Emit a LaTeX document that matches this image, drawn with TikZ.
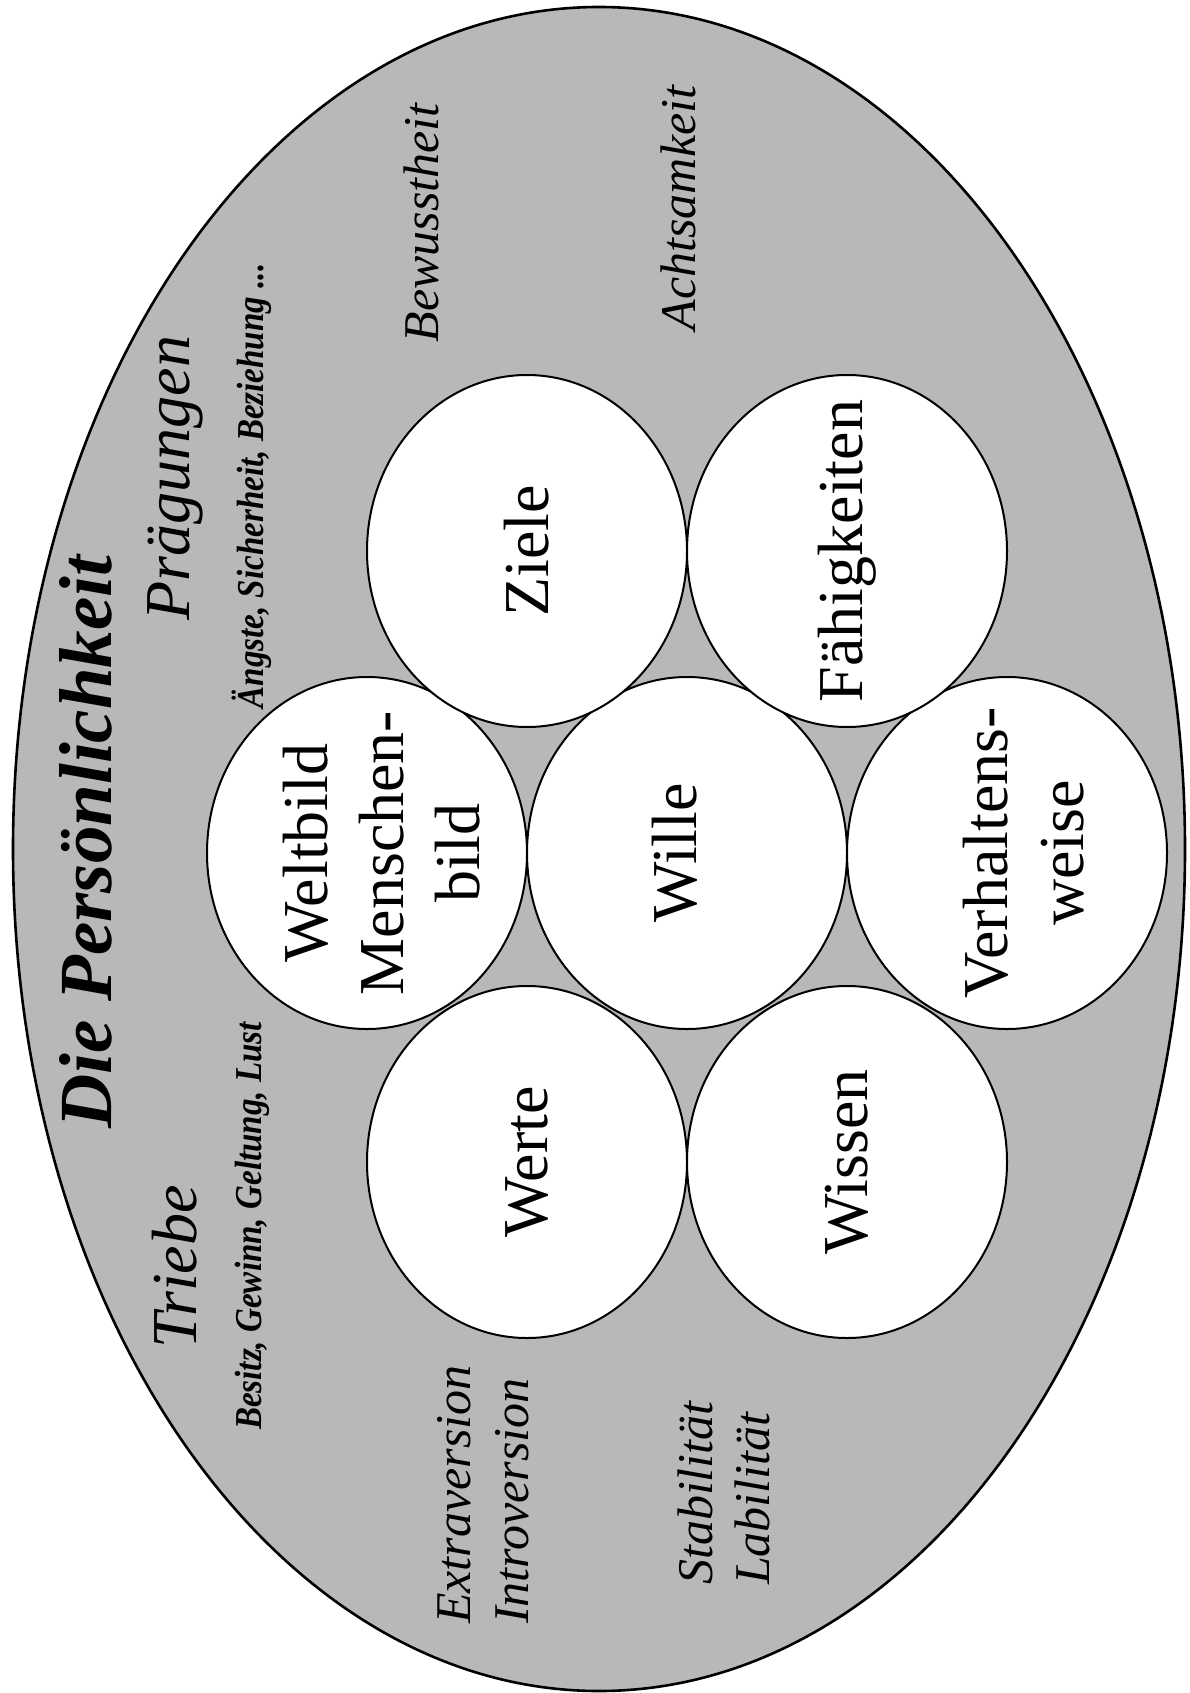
\documentclass[tikz,border=0pt]{standalone}
\usepackage{fontspec}
\setmainfont{LiberationSerif}[Extension=.ttf, UprightFont=*-Regular, BoldFont=*-Bold, ItalicFont=*-Italic, BoldItalicFont=*-BoldItalic]
\newfontfamily\condfont{LiberationSerif}[Extension=.ttf, UprightFont=*-Regular, BoldFont=*-Bold, ItalicFont=*-Italic, BoldItalicFont=*-BoldItalic, FakeStretch=0.87]
\usetikzlibrary{shapes.geometric}
\definecolor{bggray}{RGB}{184,184,184}
\begin{document}
\begin{tikzpicture}[x=1pt,y=-1pt,
  outerbox/.style={ellipse, draw, fill=bggray, line width=2.6pt, minimum width=1172pt, minimum height=1684pt, inner sep=0pt},
  blob/.style={ellipse, draw, fill=white, line width=2pt, minimum width=352pt, minimum height=320pt, inner sep=0pt, rotate=90},
  lbl/.style={rotate=90, font=\fontsize{64}{76}\selectfont, align=center, inner sep=0pt},
  bigit/.style={rotate=90, font=\fontsize{64}{70}\selectfont\itshape, inner sep=0pt},
  midit/.style={rotate=90, font=\fontsize{50}{56}\selectfont\itshape, inner sep=0pt},
  smallbi/.style={rotate=90, font=\condfont\fontsize{38}{42}\selectfont\bfseries\itshape, inner sep=0pt},
  titlest/.style={rotate=90, font=\fontsize{75}{80}\selectfont\bfseries\itshape, inner sep=0pt}]
\useasboundingbox (0,0) rectangle (1190,1693);
\node[outerbox] (outer) at (599,849) {};

% middle row
\node[blob] (weltbild) at (367,853) {};
\node[blob] (wille) at (687,853) {};
\node[blob] (verhalten) at (1007,853) {};
% top row
\node[blob] (ziele) at (527,551) {};
\node[blob] (faehig) at (847,551) {};
% bottom row
\node[blob] (werte) at (527,1162) {};
\node[blob] (wissen) at (847,1162) {};

\node[lbl] (weltbildT) at ([xshift=15pt]weltbild.center) {Weltbild\\Menschen-\\bild};
\node[lbl] (willeT) at ([xshift=-12pt]wille.center) {Wille};
\node[lbl] (verhaltenT) at ([xshift=17pt]verhalten.center) {Verhaltens-\\weise};
\node[lbl] (zieleT) at (ziele.center) {Ziele};
\node[lbl] (faehigT) at (faehig.center) {Fähigkeiten};
\node[lbl] (werteT) at (werte.center) {Werte};
\node[lbl] (wissenT) at (wissen.center) {Wissen};

\node[titlest] (title) at (86,842) {Die Persönlichkeit};
\node[bigit] (praeg) at (175,478) {Prägungen};
\node[smallbi] (aengste) at (252,486) {Ängste, Sicherheit, Beziehung ...};
\node[bigit] (triebe) at (175,1267) {Triebe};
\node[smallbi] (besitz) at (252,1226) {Besitz, Gewinn, Geltung, Lust};
\node[midit] (bewusst) at (421,223) {Bewusstheit};
\node[midit] (achtsam) at (678,208) {Achtsamkeit};
\node[midit, anchor=base west] (extra) at (470,1624) {Extraversion};
\node[midit, anchor=base west] (intro) at (528,1624) {Introversion};
\node[midit, anchor=base west] (stabil) at (712,1585) {Stabilität};
\node[midit, anchor=base west] (labil) at (769,1585) {Labilität};
\end{tikzpicture}
\end{document}
